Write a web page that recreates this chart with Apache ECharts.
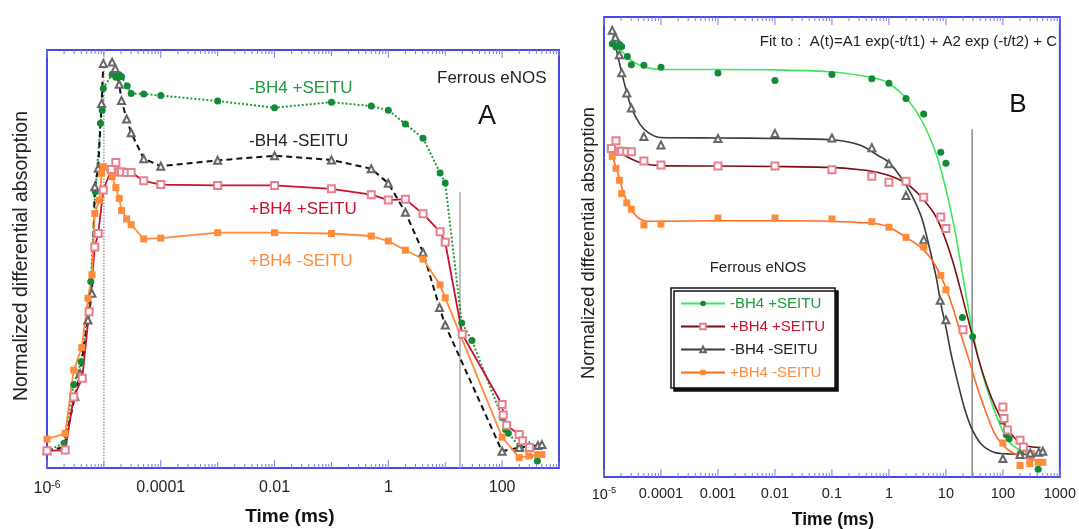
<!DOCTYPE html>
<html><head><meta charset="utf-8">
<script src="https://cdn.jsdelivr.net/npm/echarts@6/dist/echarts.min.js"></script>
<style>html,body{margin:0;padding:0;background:#fff;}#c{width:1079px;height:529px;}</style>
</head><body><div id="c"></div><script>
// ---- data: time as log10(ms), value = normalized differential absorption ----
const gT = [-6, -5.70, -5.53, -5.40, -5.23, -5.15, -5.06, -5.03, -5.01, -4.855, -4.79, -4.73, -4.69, -4.59, -4.52, -4.30, -4.0, -3.0, -2.0, -1.0, -0.30, 0, 0.30, 0.61, 0.91, 1.0, 1.29, 1.47, 2.0, 2.06, 2.11, 2.31, 2.62];
const gV = [0.041, 0.059, 0.199, 0.254, 0.446, 0.661, 0.825, 0.856, 0.908, 0.942, 0.935, 0.941, 0.936, 0.914, 0.896, 0.895, 0.891, 0.878, 0.862, 0.875, 0.866, 0.856, 0.823, 0.789, 0.706, 0.682, 0.347, 0.305, 0.121, 0.092, 0.083, 0.051, 0.017];
const bT = [-6, -5.70, -5.51, -5.42, -5.28, -5.21, -5.16, -5.10, -5.04, -5.01, -4.855, -4.80, -4.73, -4.69, -4.60, -4.52, -4.30, -4.0, -3.0, -2.0, -1.0, -0.30, 0, 0.30, 0.61, 0.90, 1.0, 2.0, 2.30, 2.48, 2.63, 2.70];
const bV = [0.041, 0.050, 0.171, 0.226, 0.354, 0.418, 0.673, 0.717, 0.872, 0.968, 0.971, 0.956, 0.918, 0.879, 0.835, 0.802, 0.740, 0.722, 0.736, 0.747, 0.737, 0.716, 0.681, 0.612, 0.516, 0.384, 0.342, 0.040, 0.049, 0.052, 0.054, 0.056];
const rT = [-6, -5.68, -5.53, -5.38, -5.26, -5.16, -5.10, -5.01, -4.87, -4.79, -4.73, -4.69, -4.60, -4.52, -4.30, -4.0, -3.0, -2.0, -1.0, -0.30, 0, 0.30, 0.61, 0.91, 1.0, 1.30, 2.0, 2.02, 2.08, 2.30, 2.36, 2.48];
const rV = [0.041, 0.043, 0.170, 0.215, 0.374, 0.529, 0.561, 0.665, 0.714, 0.731, 0.708, 0.708, 0.707, 0.707, 0.687, 0.678, 0.676, 0.676, 0.668, 0.654, 0.641, 0.643, 0.608, 0.565, 0.540, 0.320, 0.152, 0.127, 0.102, 0.080, 0.065, 0.049];
const oT = [-6, -5.68, -5.53, -5.39, -5.28, -5.21, -5.16, -5.08, -5.04, -5.01, -4.855, -4.79, -4.73, -4.69, -4.60, -4.52, -4.30, -4.0, -3.0, -2.0, -1.0, -0.30, 0, 0.30, 0.61, 0.91, 1.0, 2.0, 2.30, 2.47, 2.62, 2.70];
const oV = [0.069, 0.083, 0.234, 0.288, 0.406, 0.462, 0.609, 0.641, 0.705, 0.721, 0.697, 0.671, 0.645, 0.616, 0.596, 0.582, 0.548, 0.550, 0.563, 0.563, 0.561, 0.555, 0.543, 0.521, 0.500, 0.438, 0.407, 0.074, 0.025, 0.029, 0.032, 0.032];
// fitted curves of panel B
const gFitT = [-4.84, -4.66, -4.49, -4.26, -4.0, -3.0, -2.0, -1.06, -0.50, -0.19, 0, 0.30, 0.51, 0.68, 0.83, 0.94, 1.06, 1.18, 1.29, 1.41, 1.50, 1.61, 1.73, 1.87, 2.02, 2.13, 2.31, 2.42, 2.66];
const gFitV = [0.944, 0.922, 0.903, 0.890, 0.886, 0.886, 0.885, 0.881, 0.873, 0.865, 0.856, 0.824, 0.789, 0.749, 0.702, 0.655, 0.594, 0.521, 0.442, 0.355, 0.297, 0.239, 0.188, 0.138, 0.094, 0.073, 0.058, 0.054, 0.051];
const rFitT = [-4.87, -4.70, -4.50, -4.30, -4.0, -3.0, -2.0, -1.06, -0.50, -0.19, 0.16, 0.39, 0.62, 0.83, 1.0, 1.15, 1.29, 1.44, 1.58, 1.73, 1.87, 2.02, 2.19, 2.37, 2.66];
const rFitV = [0.712, 0.703, 0.690, 0.681, 0.677, 0.676, 0.675, 0.673, 0.668, 0.662, 0.648, 0.630, 0.601, 0.565, 0.514, 0.456, 0.391, 0.319, 0.253, 0.195, 0.152, 0.116, 0.087, 0.069, 0.064];
const bFitT = [-4.84, -4.69, -4.60, -4.52, -4.37, -4.23, -4.02, -3.0, -2.0, -1.0, -0.50, -0.19, 0, 0.19, 0.39, 0.57, 0.71, 0.83, 0.91, 1.0, 1.09, 1.20, 1.32, 1.44, 1.61, 1.84, 2.13, 2.66];
const bFitV = [0.960, 0.879, 0.836, 0.803, 0.767, 0.749, 0.738, 0.737, 0.736, 0.733, 0.721, 0.699, 0.684, 0.655, 0.615, 0.565, 0.499, 0.434, 0.377, 0.326, 0.268, 0.210, 0.152, 0.109, 0.073, 0.054, 0.050, 0.049];
const oFitT = [-4.85, -4.78, -4.72, -4.66, -4.58, -4.49, -4.37, -4.23, -4.0, -3.0, -2.0, -1.0, -0.50, -0.19, 0.01, 0.30, 0.59, 0.80, 0.97, 1.12, 1.26, 1.41, 1.55, 1.70, 1.84, 1.99, 2.13, 2.31, 2.48, 2.66];
const oFitV = [0.695, 0.670, 0.644, 0.619, 0.594, 0.575, 0.561, 0.556, 0.556, 0.557, 0.557, 0.556, 0.553, 0.550, 0.543, 0.521, 0.496, 0.463, 0.420, 0.369, 0.311, 0.253, 0.195, 0.142, 0.098, 0.070, 0.056, 0.044, 0.038, 0.035];
// reference vertical lines [log10 time, top value]
const vDotA = [-5, 1];
const vLineA = [1.26, 0.661];
const vLineB = [1.46, 0.756];
const names = ['-BH4 +SEITU', '+BH4 +SEITU', '-BH4 -SEITU', '+BH4 -SEITU'];
const decadesA = [-6, -5, -4, -3, -2, -1, 0, 1, 2, 3];
const decadesB = [-5, -4, -3, -2, -1, 0, 1, 2, 3];
const tickTexts = {'-6': '10{sup|-6}', '-5': '10{sup|-5}', '-4': '0.0001', '-3': '0.001', '-2': '0.01', '-1': '0.1', '0': '1', '1': '10', '2': '100', '3': '1000'};

const FONT = '"Liberation Sans", Arial, sans-serif';
const C = {gDot: '#138a36', gLine: '#1e9a3c', gFit: '#3ae85a', red: '#cc1133', pink: '#e8808c', rFit: '#7d0e16',
  black: '#111', tri: '#666', bFit: '#3a3a3a', orange: '#ff8c3a', oFit: '#ff6a20', frame: '#4848e4', tick: '#7a7af0'};

const pts = (T, V) => T.map((e, i) => [Math.pow(10, e), V[i]]);
const vline = (t, top) => [[Math.pow(10, t), 0], [Math.pow(10, t), top]];

function tickSeries(ax, decades, labeled, maxT) {
  return {
    type: 'custom', xAxisIndex: ax, yAxisIndex: ax, silent: true, clip: false, z: 5,
    data: decades.map(e => [Math.pow(10, e), 0.5, labeled.indexOf(e) >= 0 ? 1 : 0]),
    renderItem: function (params, api) {
      const base = api.value(0), lab = api.value(2);
      const ch = [];
      for (let k = 1; k <= 9; k++) {
        const t = base * k;
        if (t > maxT * 1.0001) break;
        const pb = api.coord([t, 0]), pt = api.coord([t, 1]);
        const len = k === 1 ? (lab ? 8 : 6) : 4;
        ch.push({type: 'line', shape: {x1: pb[0], y1: pb[1], x2: pb[0], y2: pb[1] - len}, style: {stroke: C.tick, lineWidth: 1}});
        ch.push({type: 'line', shape: {x1: pt[0], y1: pt[1], x2: pt[0], y2: pt[1] + len}, style: {stroke: C.tick, lineWidth: 1}});
      }
      return {type: 'group', children: ch};
    }
  };
}
function fmt(show) {
  return function (v) {
    const e = Math.round(Math.log10(v));
    return show.indexOf(e) >= 0 ? tickTexts[String(e)] : '';
  };
}
function xAxis(grid, min, max, interval, split, show, fs, margin) {
  return {
    type: 'log', logBase: 10, gridIndex: grid, min: min, max: max, interval: interval, splitNumber: split,
    axisLine: {show: false}, axisTick: {show: false}, minorTick: {show: false}, splitLine: {show: false},
    axisLabel: {show: true, showMinLabel: true, showMaxLabel: true, margin: margin, fontSize: fs, color: '#222', fontFamily: FONT,
      formatter: fmt(show), rich: {sup: {fontSize: fs * 0.65, verticalAlign: 'top', padding: [0, 0, 8, 0], fontFamily: FONT, color: '#222'}}}
  };
}
const yAxis = g => ({type: 'value', gridIndex: g, min: 0, max: 1, show: false});

const noEmph = {disabled: true};
const fitLine = (i, T, V, sym, lineColor, symColor) => ({name: names[i], type: 'line', xAxisIndex: 1, yAxisIndex: 1, data: pts(T, V),
  smooth: 0.3, showSymbol: false, symbol: sym, lineStyle: {color: lineColor, width: 1.6}, itemStyle: {color: symColor}, emphasis: noEmph, z: 3});
const series = [
  // ---- panel B fitted curves (first so legend icons come from them) ----
  fitLine(0, gFitT, gFitV, 'circle', C.gFit, C.gDot),
  fitLine(1, rFitT, rFitV, 'emptyRect', C.rFit, C.pink),
  fitLine(2, bFitT, bFitV, 'emptyTriangle', C.bFit, C.tri),
  fitLine(3, oFitT, oFitV, 'rect', C.oFit, C.orange),
  // ---- panel B data points ----
  {name: names[0], type: 'scatter', xAxisIndex: 1, yAxisIndex: 1, data: pts(gT, gV), symbol: 'circle', symbolSize: 7, itemStyle: {color: C.gDot, opacity: 1}, emphasis: noEmph, z: 4},
  {name: names[1], type: 'scatter', xAxisIndex: 1, yAxisIndex: 1, data: pts(rT, rV), symbol: 'emptyRect', symbolSize: 7, itemStyle: {color: C.pink, opacity: 1, borderWidth: 1}, emphasis: noEmph, z: 4},
  {name: names[2], type: 'scatter', xAxisIndex: 1, yAxisIndex: 1, data: pts(bT, bV), symbol: 'emptyTriangle', symbolSize: 7, itemStyle: {color: C.tri, opacity: 1, borderWidth: 1}, emphasis: noEmph, z: 4},
  {name: names[3], type: 'scatter', xAxisIndex: 1, yAxisIndex: 1, data: pts(oT, oV), symbol: 'rect', symbolSize: 7, itemStyle: {color: C.orange, opacity: 1}, emphasis: noEmph, z: 4},
  // ---- panel A ----
  {name: 'A ' + names[0], type: 'line', xAxisIndex: 0, yAxisIndex: 0, data: pts(gT, gV), symbol: 'circle', symbolSize: 7, showAllSymbol: true,
   lineStyle: {color: C.gLine, width: 2, type: 'dotted'}, itemStyle: {color: C.gDot}, emphasis: noEmph, z: 3},
  {name: 'A ' + names[2], type: 'line', xAxisIndex: 0, yAxisIndex: 0, data: pts(bT, bV), symbol: 'emptyTriangle', symbolSize: 7, showAllSymbol: true,
   lineStyle: {color: C.black, width: 2, type: [6, 4]}, itemStyle: {color: C.tri, borderWidth: 1}, emphasis: noEmph, z: 3},
  {name: 'A ' + names[1], type: 'line', xAxisIndex: 0, yAxisIndex: 0, data: pts(rT, rV), symbol: 'emptyRect', symbolSize: 7, showAllSymbol: true,
   lineStyle: {color: C.red, width: 1.8}, itemStyle: {color: C.pink, borderWidth: 1}, emphasis: noEmph, z: 3},
  {name: 'A ' + names[3], type: 'line', xAxisIndex: 0, yAxisIndex: 0, data: pts(oT, oV), symbol: 'rect', symbolSize: 7, showAllSymbol: true,
   lineStyle: {color: C.orange, width: 1.8}, itemStyle: {color: C.orange}, emphasis: noEmph, z: 3},
  // ---- reference lines ----
  {name: 'refA1', type: 'line', xAxisIndex: 0, yAxisIndex: 0, data: vline(vDotA[0], vDotA[1]), symbol: 'none', lineStyle: {color: '#999', width: 1.5, type: 'dotted'}, emphasis: noEmph, z: 2},
  {name: 'refA2', type: 'line', xAxisIndex: 0, yAxisIndex: 0, data: vline(vLineA[0], vLineA[1]), symbol: 'none', lineStyle: {color: '#aaa', width: 1.5}, emphasis: noEmph, z: 2},
  {name: 'refB', type: 'line', xAxisIndex: 1, yAxisIndex: 1, data: vline(vLineB[0], vLineB[1]), symbol: 'none', lineStyle: {color: '#888', width: 1.5}, emphasis: noEmph, z: 2},
  tickSeries(0, decadesA, [-6, -4, -2, 0, 2], 1e3),
  tickSeries(1, decadesB, decadesB, 1e3)
];

const txt = (x, y, text, size, color, align, extra) => Object.assign({type: 'text', x: x, y: y, silent: true,
  style: {text: text, fill: color, fontSize: size, fontFamily: FONT, align: align || 'left', verticalAlign: 'middle'}}, extra || {});
const boldTxt = (x, y, text, size) => ({type: 'text', x: x, y: y, silent: true,
  style: {text: text, fill: '#111', fontSize: size, fontWeight: 'bold', fontFamily: FONT, align: 'center', verticalAlign: 'middle'}});

const option = {
  animation: false,
  backgroundColor: '#fff',
  grid: [
    {left: 47, top: 50, width: 512, height: 418, show: true, borderColor: C.frame, borderWidth: 2, backgroundColor: 'transparent'},
    {left: 604, top: 17, width: 459, height: 460, show: true, borderColor: C.frame, borderWidth: 2, backgroundColor: 'transparent'}
  ],
  xAxis: [
    xAxis(0, 1e-6, 1e3, 2, 5, [-6, -4, -2, 0, 2], 16, 12),
    xAxis(1, 1e-5, 1e3, 1, 8, decadesB, 14.5, 9)
  ],
  yAxis: [yAxis(0), yAxis(1)],
  legend: {
    data: [
      {name: names[0], textStyle: {color: C.gLine}},
      {name: names[1], textStyle: {color: C.red}},
      {name: names[2], textStyle: {color: '#222'}},
      {name: names[3], textStyle: {color: C.orange}}
    ],
    orient: 'vertical', left: 671, top: 288, itemWidth: 44, itemHeight: 7, itemGap: 8,
    padding: [8, 10, 8, 9], backgroundColor: '#fff', borderColor: '#111', borderWidth: 1.5,
    shadowColor: '#111', shadowBlur: 0, shadowOffsetX: 3, shadowOffsetY: 3, selectedMode: false,
    textStyle: {fontSize: 15, fontFamily: FONT, lineHeight: 15}
  },
  graphic: [
    txt(22, 256, 'Normalized differential absorption', 19.5, '#222', 'center', {rotation: Math.PI / 2}),
    txt(589, 243, 'Normalized differential absorption', 18.3, '#222', 'center', {rotation: Math.PI / 2}),
    boldTxt(290, 517, 'Time (ms)', 19),
    boldTxt(833, 520, 'Time (ms)', 17.5),
    txt(437, 78, 'Ferrous eNOS', 17, '#222'),
    txt(487, 117, 'A', 27, '#111', 'center'),
    txt(249, 88, names[0], 17, C.gLine),
    txt(249, 141, names[2], 17, '#222'),
    txt(249, 209, names[1], 17, C.red),
    txt(249, 261.5, names[3], 17, C.orange),
    txt(1057, 42, 'Fit to :  A(t)=A1 exp(-t/t1) + A2 exp (-t/t2) + C', 15, '#222', 'right'),
    txt(1018, 105, 'B', 26, '#111', 'center'),
    txt(758, 268, 'Ferrous eNOS', 15, '#222', 'center')
  ],
  series: series
};
const chart = echarts.init(document.getElementById('c'), null, {renderer: 'canvas'});
chart.setOption(option);
</script></body></html>
